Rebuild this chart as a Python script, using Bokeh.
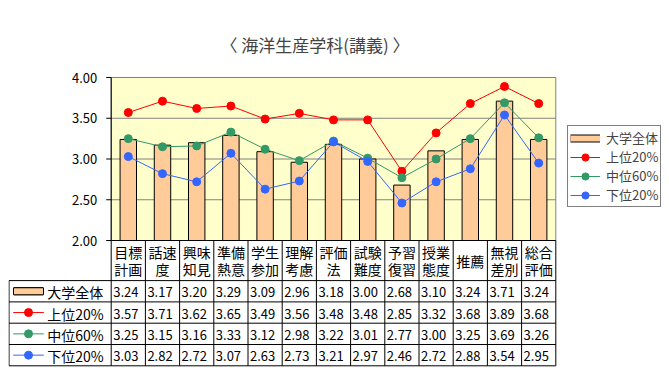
import numpy as np
from bokeh.plotting import figure
from bokeh.models import Range1d, Legend, LegendItem, Title
from bokeh.core.properties import value
from bokeh.embed import file_html
from bokeh.resources import INLINE

# ---------------- data ----------------
categories = ["目標\n計画", "話速\n度", "興味\n知見", "準備\n熱意", "学生\n参加", "理解\n考慮",
              "評価\n法", "試験\n難度", "予習\n復習", "授業\n態度", "推薦", "無視\n差別", "総合\n評価"]
univ = [3.24, 3.17, 3.20, 3.29, 3.09, 2.96, 3.18, 3.00, 2.68, 3.10, 3.24, 3.71, 3.24]
top20 = [3.57, 3.71, 3.62, 3.65, 3.49, 3.56, 3.48, 3.48, 2.85, 3.32, 3.68, 3.89, 3.68]
mid60 = [3.25, 3.15, 3.16, 3.33, 3.12, 2.98, 3.22, 3.01, 2.77, 3.00, 3.25, 3.69, 3.26]
low20 = [3.03, 2.82, 2.72, 3.07, 2.63, 2.73, 3.21, 2.97, 2.46, 2.72, 2.88, 3.54, 2.95]
series_names = ["大学全体", "上位20%", "中位60%", "下位20%"]
y_ticks = [2.0, 2.5, 3.0, 3.5, 4.0]
y_min, y_max = 2.0, 4.0
title_text = "〈 海洋生産学科(講義) 〉"

# ---------------- style ----------------
FONT = "Noto Sans CJK JP"
BAR_FILL = "#FFCC99"
PLOT_BG = "#FFFFCC"
GRID = "#808080"
LINE_COLORS = ["#FF0000", "#339966", "#3366FF"]

# ---------------- layout (canvas pixels) ----------------
W, H = 665, 372
FL, FR, FT, FB = 8.0, 665.0, 60.0, 368.0       # frame edges
X0_PX, UX = 110.7, 34.2                         # x = 0 position, px per category
Y4_PX, Y2_PX = 77.0, 240.0                      # y_max / y_min positions
UY = (Y2_PX - Y4_PX) / (y_max - y_min)
T0_PX, UT = 365.3, 21.3                         # table bottom, row height

n = len(categories)
x_start = (FL - X0_PX) / UX
x_end = (FR - X0_PX) / UX
y_start = y_min - (FB - Y2_PX) / UY
y_end = y_max + (Y4_PX - FT) / UY
t_start = -(FB - T0_PX) / UT
t_end = (T0_PX - FT) / UT
hdr_top = (T0_PX - Y2_PX) / UT


def xpx(px):
    return (px - X0_PX) / UX


tbl_left = xpx(8.5)

p = figure(width=W, height=H, x_range=Range1d(x_start, x_end), y_range=Range1d(y_start, y_end),
           x_axis_type=None, y_axis_type=None, output_backend="svg", toolbar_location=None,
           min_border_left=int(FL), min_border_right=int(W - FR), min_border_top=int(FT),
           min_border_bottom=int(H - FB))
p.extra_y_ranges = {"tbl": Range1d(t_start, t_end)}
p.outline_line_color = None
p.background_fill_color = "white"
p.border_fill_color = "white"

p.add_layout(Title(text=title_text, text_font=FONT, text_font_size="17px", text_font_style="normal",
                   align="left", offset=212, standoff=8), "above")

xs = np.arange(n) + 0.5

# plot area
p.quad(left=0, right=n, bottom=y_min, top=y_max, fill_color=PLOT_BG, line_color=GRID, line_width=1)
inner = [t for t in y_ticks if y_min < t < y_max]
p.segment(x0=[0] * len(inner), x1=[n] * len(inner), y0=inner, y1=inner, line_color=GRID, line_width=1)

# bars
bars = p.vbar(x=xs, top=univ, bottom=y_min, width=0.48, fill_color=BAR_FILL, line_color="black", line_width=1)

# lines
line_items = []
for vals, col, name in zip([top20, mid60, low20], LINE_COLORS, series_names[1:]):
    lr = p.line(xs, vals, line_color=col, line_width=1)
    sr = p.scatter(xs, vals, marker="circle", size=8, fill_color=col, line_color=col)
    line_items.append((name, lr, sr, col))

# y axis
p.segment(x0=[0], x1=[0], y0=[y_min], y1=[y_max], line_color="black", line_width=1)
p.ray(x=[0] * len(y_ticks), y=y_ticks, length=5, length_units="screen", angle=np.pi, line_color="black")
p.text(x=[0] * len(y_ticks), y=y_ticks, text=[f"{t:.2f}" for t in y_ticks], x_offset=-14,
       text_align="right", text_baseline="middle", text_font=value(FONT), text_font_size="13px", text_color="black")

# ---------------- data table ----------------
row_c = [4 - r - 0.5 for r in range(4)]
hy = [0, 1, 2, 3, 4]
p.segment(x0=[tbl_left] * 5, x1=[n] * 5, y0=hy, y1=hy, line_color="black", y_range_name="tbl")
p.segment(x0=[0], x1=[n], y0=[hdr_top], y1=[hdr_top], line_color="black", y_range_name="tbl")
vx = list(range(n + 1))
p.segment(x0=vx, x1=vx, y0=[0] * len(vx), y1=[hdr_top] * len(vx), line_color="black", y_range_name="tbl")
p.segment(x0=[tbl_left], x1=[tbl_left], y0=[0], y1=[4], line_color="black", y_range_name="tbl")

# category labels
p.text(x=xs, y=[(4 + hdr_top) / 2] * n, text=categories, text_align="center", text_baseline="middle",
       text_font=value(FONT), text_font_size="14px", text_line_height=0.82, y_range_name="tbl")

# values
for r, vals in enumerate([univ, top20, mid60, low20]):
    p.text(x=np.arange(n), y=[row_c[r]] * n, text=[f"{v:.2f}" for v in vals], x_offset=2, y_offset=1,
           text_align="left", text_baseline="middle", text_font=value(FONT), text_font_size="13px",
           y_range_name="tbl")

# row headers (the bar swatch doubles as the legend glyph for the bar series)
p.rect(x=[xpx(28)], y=[row_c[0]], width=30, height=7, width_units="screen", height_units="screen",
       fill_color=BAR_FILL, line_color="black", y_range_name="tbl")
sw_edge = p.line(x=[xpx(13.5), xpx(42.5)], y=[row_c[0]] * 2, line_color="black", line_width=8, y_range_name="tbl")
sw_fill = p.line(x=[xpx(13.5), xpx(42.5)], y=[row_c[0]] * 2, line_color=BAR_FILL, line_width=6, y_range_name="tbl")
for r, (name, lr, sr, col) in enumerate(line_items, start=1):
    p.segment(x0=[xpx(12.7)], x1=[xpx(43.3)], y0=[row_c[r]], y1=[row_c[r]], line_color=col, y_range_name="tbl")
    p.scatter(x=[xpx(28)], y=[row_c[r]], marker="circle", size=8, fill_color=col, line_color=col, y_range_name="tbl")
p.text(x=[xpx(46.7)] * 4, y=row_c, text=series_names, y_offset=1, text_align="left", text_baseline="middle",
       text_font=value(FONT), text_font_size="14px", y_range_name="tbl")

# ---------------- legend ----------------
items = [LegendItem(label=series_names[0], renderers=[sw_edge, sw_fill])]
for name, lr, sr, col in line_items:
    items.append(LegendItem(label=name, renderers=[lr, sr]))
legend = Legend(items=items, location=(567 - FL, FB - 207), margin=0, padding=2, spacing=0,
                glyph_width=30, glyph_height=18, label_height=18, label_standoff=6,
                label_text_font=FONT, label_text_font_size="13px",
                border_line_color="black", border_line_width=1, background_fill_color="white",
                background_fill_alpha=1.0)
p.add_layout(legend)

open("out.html", "w").write(file_html(p, INLINE))
